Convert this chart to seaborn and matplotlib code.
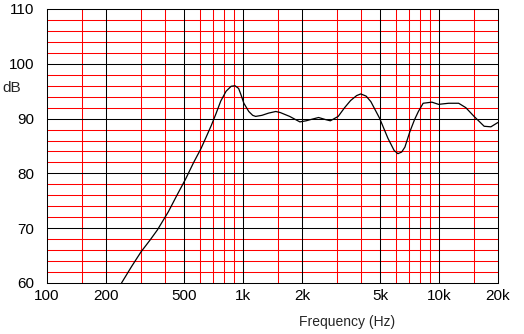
import numpy as np
import pandas as pd
import matplotlib
matplotlib.use("Agg")
import matplotlib.pyplot as plt
from matplotlib.ticker import FixedLocator, FixedFormatter, NullLocator
import seaborn as sns

# frequency response (Hz, dB)
freq = [240, 270, 302, 335, 366, 416, 460, 510, 560, 610, 650, 690, 730, 770,
        820, 870, 910, 950, 980, 1010, 1070, 1120, 1160, 1250, 1350, 1470, 1550,
        1730, 1950, 2100, 2200, 2430, 2650, 2790, 3060, 3300, 3540, 3800, 3990,
        4250, 4490, 4970, 5490, 5900, 6170, 6450, 6700, 7100, 7500, 7850, 8300,
        9200, 9950, 11200, 12600, 13700, 15100, 17000, 18400, 20000]
level = [60.0, 63.0, 65.7, 67.8, 69.7, 73.0, 76.0, 79.0, 82.0, 84.5, 86.7, 88.8,
         91.0, 93.2, 95.0, 95.9, 96.0, 95.5, 94.2, 92.8, 91.3, 90.6, 90.4, 90.6,
         91.0, 91.3, 91.1, 90.4, 89.4, 89.6, 89.8, 90.2, 89.8, 89.6, 90.4, 92.0,
         93.3, 94.2, 94.5, 94.1, 93.1, 90.1, 86.4, 84.2, 83.6, 83.9, 84.8, 87.6,
         89.8, 91.3, 92.8, 93.0, 92.6, 92.8, 92.8, 92.0, 90.4, 88.6, 88.5, 89.3]

major_freq = [100, 200, 500, 1000, 2000, 5000, 10000, 20000]
major_labels = ["100", "200", "500", "1k", "2k", "5k", "10k", "20k"]
minor_freq = [150, 300, 400, 600, 700, 800, 900, 1500, 3000, 4000,
              6000, 7000, 8000, 9000, 15000]
db_ticks = [60, 70, 80, 90, 100, 110]
db_minor = [62, 64, 66, 68, 72, 74, 76, 78, 82, 84, 86, 88,
            92, 94, 96, 98, 102, 104, 106, 108]

sns.set_style("white")
plt.rcParams["font.family"] = ["Liberation Sans", "DejaVu Sans"]

df = pd.DataFrame({"freq": freq, "level": level})

fig = plt.figure(figsize=(5.24, 3.34), dpi=100)
ax = fig.add_axes([47 / 524, 1 - 283 / 334, 451 / 524, 274 / 334])

ax.set_xscale("log")
ax.set_xlim(100, 20000)
ax.set_ylim(60, 110)

lw = 0.75
for f in minor_freq:
    ax.axvline(f, color="#ff0000", lw=lw, zorder=1)
for d in db_minor:
    ax.axhline(d, color="#ff0000", lw=lw, zorder=1)
for f in major_freq[1:-1]:
    ax.axvline(f, color="black", lw=lw, zorder=2)
for d in db_ticks[1:-1]:
    ax.axhline(d, color="black", lw=lw, zorder=2)

sns.lineplot(data=df, x="freq", y="level", ax=ax, color="black", lw=0.9, zorder=3)

ax.xaxis.set_major_locator(FixedLocator(major_freq))
ax.xaxis.set_major_formatter(FixedFormatter(major_labels))
ax.xaxis.set_minor_locator(NullLocator())
ax.set_yticks(db_ticks)
ax.tick_params(axis="both", length=0, labelsize=11, colors="black")
ax.tick_params(axis="x", pad=4)
ax.tick_params(axis="y", pad=9)
ax.set_xlabel("")
ax.set_ylabel("")
for s in ax.spines.values():
    s.set_color("black")
    s.set_linewidth(lw)
    s.set_visible(True)

fig.text(12 / 524, 1 - 88 / 334, "dB", ha="center", va="center", fontsize=11)
fig.text(347 / 524, 1 - 322 / 334, "Frequency (Hz)", ha="center", va="center", fontsize=10)

fig.savefig("out.png", dpi=100)
